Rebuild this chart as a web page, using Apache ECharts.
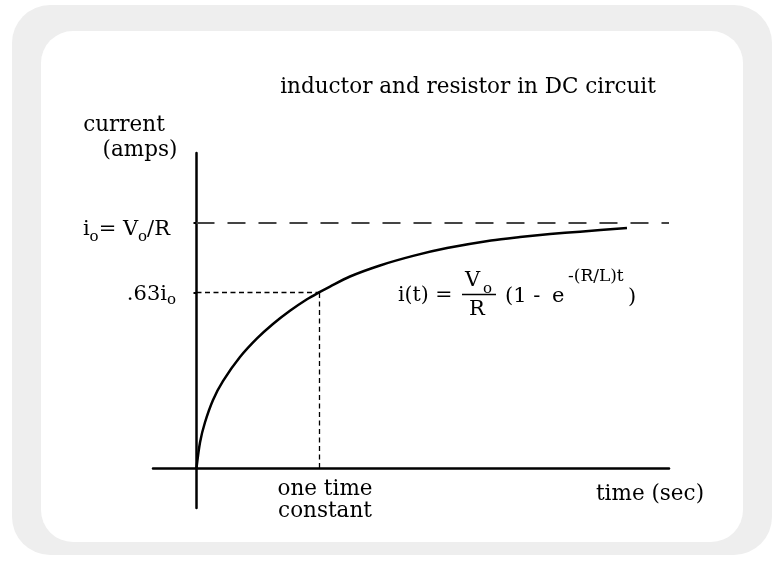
<!DOCTYPE html>
<html>
<head>
<meta charset="utf-8">
<style>
  html, body { margin: 0; padding: 0; background: #fff; }
  #chart { width: 775px; height: 565px; }
</style>
<script src="https://cdn.jsdelivr.net/npm/echarts@6/dist/echarts.min.js"></script>
</head>
<body>
<div id="chart"></div>
<script>
// curve: t in time constants, i in units of io
const timeT = [0, 0.029, 0.069, 0.135, 0.216, 0.355, 0.494, 0.624, 0.763, 0.902, 1.0, 1.090, 1.253, 1.498, 1.776, 2.045, 2.404, 2.641, 2.886, 3.131, 3.514];
const currentI = [0, 0.105, 0.186, 0.278, 0.355, 0.453, 0.529, 0.588, 0.642, 0.689, 0.717, 0.741, 0.782, 0.827, 0.867, 0.898, 0.929, 0.943, 0.955, 0.965, 0.980];
// levels marked on the current axis (io and the ".63io" line as drawn)
const levelValues = [1, 0.717];
const levelLabels = ['{a|i}{b|o}{a|= V}{b|o}{c|/R}', '{d|.63i}{e|o}'];
// one time constant
const tauT = 1;
const tRange = [-0.355, 3.857];
const iRange = [-0.163, 1.286];

const FONT = '"DejaVu Serif", serif';
const INK = '#000';

function txt(text, x, y, size, align) {
  return {
    type: 'text', z: 100,
    style: {
      text: text, x: x, y: y, fill: INK,
      font: size + 'px ' + FONT,
      align: align, textAlign: align,
      verticalAlign: 'middle', textVerticalAlign: 'middle'
    }
  };
}

const chart = echarts.init(document.getElementById('chart'));

chart.setOption({
  animation: false,
  backgroundColor: '#fff',
  grid: { left: 153, right: 106, top: 153, bottom: 57 },
  xAxis: {
    type: 'value',
    min: tRange[0], max: tRange[1],
    axisLine: { onZero: true, lineStyle: { color: '#000', width: 2.5 } },
    axisTick: { show: false },
    axisLabel: { show: false },
    splitLine: { show: false }
  },
  yAxis: {
    type: 'value',
    min: iRange[0], max: iRange[1],
    axisLine: { show: true, onZero: true, lineStyle: { color: '#000', width: 2.5 } },
    axisTick: { show: true, customValues: levelValues, length: 3, lineStyle: { color: '#000', width: 2 } },
    axisLabel: {
      customValues: levelValues,
      margin: -23,
      padding: [0, 0, 13, 0],
      formatter: function (v) { return levelLabels[levelValues.indexOf(v)]; },
      rich: {
        a: { fontFamily: FONT, fontSize: 21, color: INK, lineHeight: 20, padding: [12, 0, 0, 0], verticalAlign: 'top' },
        b: { fontFamily: FONT, fontSize: 15, color: INK, lineHeight: 14, padding: [23, 0, 0, 0], verticalAlign: 'top' },
        c: { fontFamily: FONT, fontSize: 21, color: INK, lineHeight: 20, padding: [12, 6, 0, 0], verticalAlign: 'top' },
        d: { fontFamily: FONT, fontSize: 21, color: INK, lineHeight: 20, padding: [8, 0, 0, 0], verticalAlign: 'top' },
        e: { fontFamily: FONT, fontSize: 15, color: INK, lineHeight: 14, padding: [17, 0, 0, 0], verticalAlign: 'top' }
      }
    },
    splitLine: { show: false }
  },
  graphic: [
    { type: 'rect', z: -10, shape: { x: 12, y: 5, width: 760, height: 550, r: 38 }, style: { fill: '#eeeeee' } },
    { type: 'rect', z: -9, shape: { x: 41, y: 31, width: 702, height: 511, r: 32 }, style: { fill: '#ffffff' } },
    txt('inductor and resistor in DC circuit', 468, 87, 21.5, 'center'),
    txt('current', 124, 125, 21.5, 'center'),
    txt('(amps)', 140, 150, 21.5, 'center'),
    txt('time (sec)', 650, 494, 21.5, 'center'),
    txt('one time', 325, 489, 21.5, 'center'),
    txt('constant', 325, 511, 21.5, 'center'),
    // i(t) = Vo/R (1 - e^-(R/L)t)
    txt('i(t) =', 398, 296, 20.5, 'left'),
    txt('V', 465, 281, 21, 'left'),
    txt('o', 483, 289, 15, 'left'),
    { type: 'line', z: 100, shape: { x1: 462, y1: 294.5, x2: 496, y2: 294.5 }, style: { stroke: INK, lineWidth: 1.5 } },
    txt('R', 477, 310, 21, 'center'),
    txt('(1 -', 505, 297, 21, 'left'),
    txt('e', 552, 297, 21, 'left'),
    txt('-(R/L)t', 568, 277, 17, 'left'),
    txt(')', 628, 298, 21, 'left')
  ],
  series: [{
    type: 'line',
    data: timeT.map(function (t, k) { return [t, currentI[k]]; }),
    smooth: 0.3,
    symbol: 'none',
    lineStyle: { color: '#000', width: 2.5 },
    markLine: {
      silent: true,
      symbol: 'none',
      label: { show: false },
      data: [
        [{ coord: [0, levelValues[0]], lineStyle: { type: [18, 13], color: '#444', width: 2 } }, { coord: [tRange[1], levelValues[0]] }],
        [{ coord: [0, levelValues[1]], lineStyle: { type: [5, 3.5], color: '#000', width: 1.3 } }, { coord: [tauT, levelValues[1]] }],
        [{ coord: [tauT, 0], lineStyle: { type: [5, 3.5], color: '#000', width: 1.3 } }, { coord: [tauT, levelValues[1]] }]
      ]
    }
  }]
});
</script>
</body>
</html>
